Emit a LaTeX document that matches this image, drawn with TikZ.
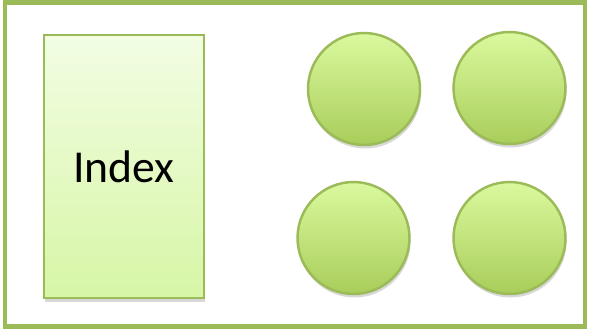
\documentclass[tikz,border=0pt]{standalone}
\usepackage{fontspec}
\setmainfont{Carlito}
\usetikzlibrary{positioning,shadows}
\definecolor{frameGreen}{HTML}{9BBB59}
\definecolor{idxTop}{HTML}{F2FDE3}
\definecolor{idxBot}{HTML}{D7F6A6}
\definecolor{ballTop}{HTML}{DAF99E}
\definecolor{ballBot}{HTML}{A9CD5A}

\begin{document}
\begin{tikzpicture}[
  x=0.02cm, y=-0.02cm,
  soft/.style={drop shadow={shadow xshift=0.6pt, shadow yshift=-2pt,
               opacity=0.22, fill=black!70}},
  index/.style={rectangle, draw=frameGreen, line width=1.4pt, soft,
                top color=idxTop, bottom color=idxBot,
                minimum width=3.2cm, minimum height=5.26cm,
                inner sep=0pt, font=\fontsize{26}{30}\selectfont},
  ball/.style={circle, draw=frameGreen, line width=1.4pt, soft,
               top color=ballTop, bottom color=ballBot,
               minimum size=2.24cm, inner sep=0pt},
]

% ---- Canvas and outer frame -------------------------------------------------
\useasboundingbox (0,0) rectangle (590,329);
\draw[frameGreen, line width=2.4pt] (5,2.5) rectangle (585,326.5);

% ---- Index block ------------------------------------------------------------
\node[index] (idx) at (124,166.5) {Index};

% ---- Records (2 x 2) --------------------------------------------------------
\node[ball] (recA) at (364,89)  {};
\node[ball] (recB) at (509.5,88) {};
\node[ball] (recC) at (353.5,238) {};
\node[ball] (recD) at (509.5,238) {};

\end{tikzpicture}
\end{document}
